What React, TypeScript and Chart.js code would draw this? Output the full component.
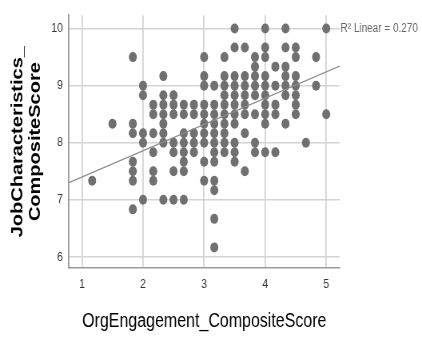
import { useEffect, useRef } from 'react';
import { Chart, registerables } from 'chart.js';

Chart.register(...registerables);

// ---- data ----
const engagementScores: number[] = [
  1.167,
  1.5,
  1.833, 1.833, 1.833, 1.833, 1.833, 1.833, 1.833,
  2.0, 2.0, 2.0, 2.0, 2.0,
  2.167, 2.167, 2.167, 2.167, 2.167, 2.167,
  2.333, 2.333, 2.333, 2.333, 2.333, 2.333, 2.333, 2.333,
  2.5, 2.5, 2.5, 2.5, 2.5, 2.5, 2.5,
  2.667, 2.667, 2.667, 2.667, 2.667, 2.667, 2.667, 2.667,
  2.833, 2.833, 2.833, 2.833, 2.833,
  3.0, 3.0, 3.0, 3.0, 3.0, 3.0, 3.0, 3.0, 3.0, 3.0,
  3.167, 3.167, 3.167, 3.167, 3.167, 3.167, 3.167, 3.167, 3.167, 3.167, 3.167, 3.167,
  3.333, 3.333, 3.333, 3.333, 3.333, 3.333, 3.333, 3.333, 3.333, 3.333,
  3.5, 3.5, 3.5, 3.5, 3.5, 3.5, 3.5, 3.5, 3.5, 3.5, 3.5,
  3.667, 3.667, 3.667, 3.667, 3.667, 3.667, 3.667, 3.667,
  3.833, 3.833, 3.833, 3.833, 3.833, 3.833, 3.833, 3.833,
  4.0, 4.0, 4.0, 4.0, 4.0, 4.0, 4.0, 4.0, 4.0, 4.0,
  4.167, 4.167, 4.167, 4.167, 4.167,
  4.333, 4.333, 4.333, 4.333, 4.333, 4.333, 4.333,
  4.5, 4.5, 4.5, 4.5, 4.5, 4.5, 4.5,
  4.667,
  4.833, 4.833,
  5.0, 5.0,
];

const characteristicsScores: number[] = [
  7.333,
  8.333,
  9.5, 8.333, 8.167, 7.667, 7.5, 7.333, 6.833,
  9.0, 8.833, 8.167, 8.0, 7.0,
  8.667, 8.5, 8.167, 7.833, 7.5, 7.333,
  9.167, 8.833, 8.667, 8.5, 8.333, 8.167, 8.0, 7.0,
  8.833, 8.667, 8.5, 8.0, 7.833, 7.5, 7.0,
  8.667, 8.5, 8.167, 8.0, 7.833, 7.667, 7.5, 7.0,
  8.667, 8.5, 8.167, 8.0, 7.833,
  9.5, 9.167, 9.0, 8.667, 8.5, 8.333, 8.167, 8.0, 7.667, 7.333,
  9.0, 8.667, 8.5, 8.333, 8.167, 8.0, 7.833, 7.667, 7.333, 7.167, 6.667, 6.167,
  9.5, 9.167, 9.0, 8.833, 8.667, 8.5, 8.333, 8.167, 8.0, 7.833,
  10.0, 9.667, 9.167, 9.0, 8.833, 8.667, 8.5, 8.333, 8.0, 7.833, 7.667,
  9.667, 9.167, 9.0, 8.833, 8.667, 8.5, 8.167, 7.5,
  9.5, 9.333, 9.167, 9.0, 8.833, 8.5, 8.0, 7.833,
  10.0, 9.667, 9.5, 9.167, 9.0, 8.833, 8.667, 8.5, 8.333, 7.833,
  9.333, 9.0, 8.667, 8.5, 7.833,
  10.0, 9.667, 9.333, 9.167, 9.0, 8.833, 8.333,
  9.667, 9.5, 9.167, 9.0, 8.833, 8.667, 8.5,
  8.0,
  9.5, 9.0,
  10.0, 8.5,
];

const xTickValues: number[] = [1, 2, 3, 4, 5];
const yTickValues: number[] = [6, 7, 8, 9, 10];

const xAxisRange: number[] = [0.787, 5.22];
const yAxisRange: number[] = [5.806, 10.232];

const fitIntercept = 6.94;
const fitSlope = 0.46;
const fitLabel = 'R\u00B2 Linear = 0.270';

const xTitle = 'OrgEngagement_CompositeScore';
const yTitle: string[] = ['JobCharacteristics_', 'CompositeScore'];

// ---- rendering ----
const SQUEEZE = 0.8; // the reference is horizontally compressed
const VIEW_W = 422;
const VIEW_H = 338;
const CANVAS_W = Math.round(VIEW_W / SQUEEZE);
const FONT = '"Liberation Sans", Arial, sans-serif';

const labelPlugin = {
  id: 'fitLabel',
  afterDraw(chart: any) {
    const { ctx, chartArea, scales } = chart;
    ctx.save();
    ctx.font = `12.5px ${FONT}`;
    ctx.fillStyle = '#666666';
    ctx.textBaseline = 'middle';
    ctx.textAlign = 'left';
    ctx.fillText(fitLabel, chartArea.right + 1, scales.y.getPixelForValue(yTickValues[yTickValues.length - 1]));
    ctx.restore();
  },
};

export default function App() {
  const ref = useRef<HTMLCanvasElement | null>(null);

  useEffect(() => {
    const canvas = ref.current;
    if (!canvas) return;
    const points = engagementScores.map((x, i) => ({ x, y: characteristicsScores[i] }));
    const fitLine = [xAxisRange[0], xAxisRange[1]].map((x) => ({ x, y: fitIntercept + fitSlope * x }));

    const chart = new Chart(canvas, {
      type: 'scatter',
      data: {
        datasets: [
          {
            type: 'line',
            data: fitLine,
            borderColor: '#8c8c8c',
            borderWidth: 1.2,
            pointRadius: 0,
            fill: false,
          } as any,
          {
            data: points,
            backgroundColor: '#707070',
            borderWidth: 0,
            pointRadius: 5,
            pointHoverRadius: 5,
          },
        ],
      },
      options: {
        animation: false,
        responsive: false,
        events: [],
        layout: { padding: { top: 5, right: CANVAS_W - 425, bottom: 0, left: 0 } },
        plugins: { legend: { display: false }, tooltip: { enabled: false } },
        scales: {
          x: {
            type: 'linear',
            min: xAxisRange[0],
            max: xAxisRange[1],
            afterBuildTicks: (s: any) => {
              s.ticks = xTickValues.map((v) => ({ value: v }));
            },
            afterFit: (s: any) => {
              s.height = 70;
            },
            grid: { color: '#d4d4d4', lineWidth: 1.8, drawTicks: false },
            border: { color: '#9a9a9a', width: 1.5 },
            ticks: { padding: 9, color: '#333333', font: { family: FONT, size: 13 } },
            title: {
              display: true,
              text: xTitle,
              color: '#000000',
              font: { family: FONT, size: 20 },
              padding: { top: 0, bottom: 5 },
            },
          },
          y: {
            type: 'linear',
            min: yAxisRange[0],
            max: yAxisRange[1],
            afterBuildTicks: (s: any) => {
              s.ticks = yTickValues.map((v) => ({ value: v }));
            },
            afterFit: (s: any) => {
              s.width = 86.25;
            },
            grid: { color: '#d4d4d4', lineWidth: 1.5, drawTicks: false },
            border: { color: '#9a9a9a', width: 1.8 },
            ticks: { padding: 7.5, color: '#333333', font: { family: FONT, size: 13 } },
            title: {
              display: true,
              text: yTitle,
              color: '#000000',
              font: { family: FONT, size: 20, weight: 'bold', lineHeight: 1.125 },
              padding: { top: 11, bottom: 0 },
            },
          },
        },
      },
      plugins: [labelPlugin],
    });
    return () => chart.destroy();
  }, []);

  return (
    <div style={{ position: 'fixed', left: 0, top: 0, width: VIEW_W, height: VIEW_H, background: '#fff' }}>
      <canvas
        ref={ref}
        width={CANVAS_W}
        height={VIEW_H}
        style={{ width: `${VIEW_W}px`, height: `${VIEW_H}px`, display: 'block' }}
      />
    </div>
  );
}
